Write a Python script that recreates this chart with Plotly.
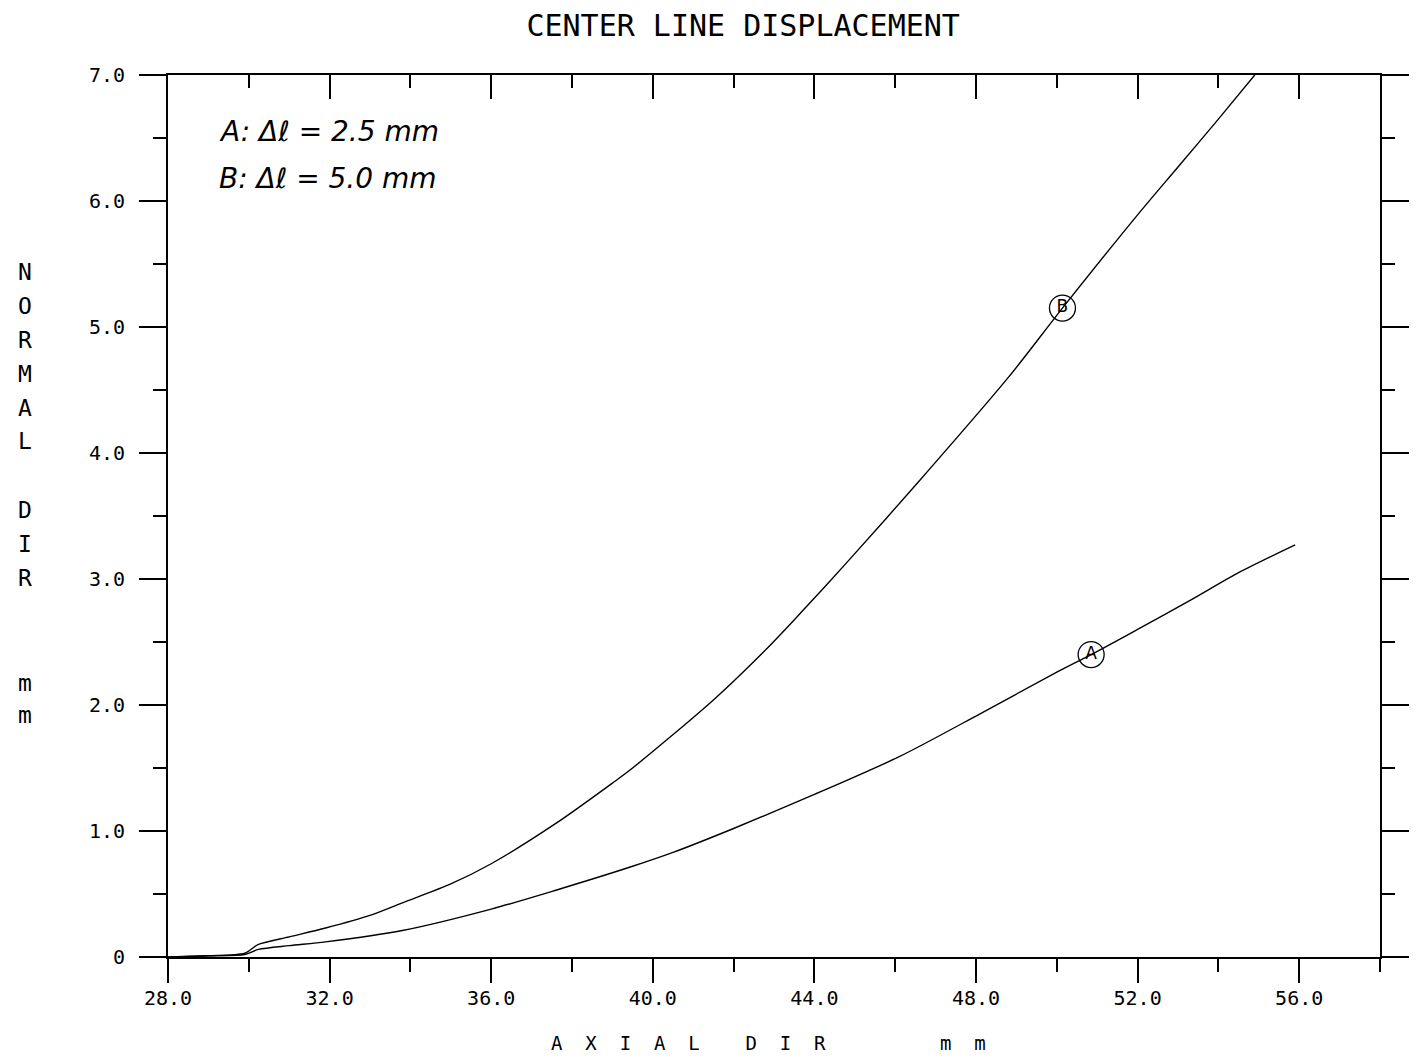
import plotly.graph_objects as go

# ---------------- data ----------------
A_X = [28.0, 29.0, 29.9, 30.24, 31.0, 31.9, 33.8, 36.0, 37.6, 39.5, 40.5, 42.0, 44.0,
       46.1, 48.1, 50.0, 50.85, 52.0, 53.3, 54.5, 55.9]
A_Y = [0.0, 0.01, 0.02, 0.06, 0.09, 0.12, 0.21, 0.38, 0.53, 0.72, 0.83, 1.02, 1.29,
       1.59, 1.93, 2.26, 2.40, 2.60, 2.83, 3.05, 3.27]

B_X = [28.0, 29.0, 29.9, 30.24, 31.0, 31.9, 33.0, 33.8, 35.0, 36.0, 37.6, 39.0, 39.5,
       41.5, 42.8, 43.6, 44.8, 46.6, 48.8, 50.14, 52.0, 53.0, 54.0, 54.9]
B_Y = [0.0, 0.01, 0.03, 0.10, 0.16, 0.23, 0.33, 0.43, 0.58, 0.74, 1.06, 1.38, 1.50,
       2.04, 2.44, 2.71, 3.13, 3.78, 4.60, 5.15, 5.89, 6.27, 6.65, 7.0]

LABEL_TEXT = ["A", "B"]
LABEL_X = [50.85, 50.14]
LABEL_Y = [2.40, 5.15]

X_TICKS = [28, 32, 36, 40, 44, 48, 52, 56]
X_TICKTEXT = ["28.0", "32.0", "36.0", "40.0", "44.0", "48.0", "52.0", "56.0"]
Y_TICKS = [0, 1, 2, 3, 4, 5, 6, 7]
Y_TICKTEXT = ["0", "1.0", "2.0", "3.0", "4.0", "5.0", "6.0", "7.0"]

TITLE = "CENTER LINE DISPLACEMENT"
X_TITLE = "A  X  I  A  L    D  I  R          m  m"
Y_TITLE_LETTERS = ["N", "O", "R", "M", "A", "L", "D", "I", "R", "m", "m"]
LEGEND_LINES = ["A: Δℓ = 2.5 mm", "B: Δℓ = 5.0 mm"]

# ---------------- layout geometry ----------------
W, H = 1421, 1058
ML, MR, MT, MB = 168, 28, 75, 101
PW, PH = W - ML - MR, H - MT - MB

def px_to_paper(px, py):
    return (px - ML) / PW, (H - MB - py) / PH

MONO = "DejaVu Sans Mono"
BLACK = "#000000"

fig = go.Figure()

fig.add_trace(go.Scatter(x=A_X, y=A_Y, mode="lines",
                         line=dict(color=BLACK, width=1.4, shape="spline", smoothing=0.8),
                         hoverinfo="skip", showlegend=False))
fig.add_trace(go.Scatter(x=B_X, y=B_Y, mode="lines",
                         line=dict(color=BLACK, width=1.4, shape="spline", smoothing=0.8),
                         hoverinfo="skip", showlegend=False))
fig.add_trace(go.Scatter(x=LABEL_X, y=LABEL_Y, mode="markers+text", text=LABEL_TEXT,
                         textposition="middle center",
                         textfont=dict(family="DejaVu Sans", size=17, color=BLACK),
                         marker=dict(symbol="circle-open", size=26,
                                     line=dict(color=BLACK, width=1.3), color=BLACK),
                         hoverinfo="skip", showlegend=False))
# invisible trace for top axis
fig.add_trace(go.Scatter(x=[X_TICKS[0], X_TICKS[-1]], y=[0, 0], xaxis="x2", mode="lines",
                         line=dict(width=0), opacity=0, hoverinfo="skip", showlegend=False))

tickfont = dict(family=MONO, size=20, color=BLACK)

fig.update_layout(
    width=W, height=H,
    margin=dict(l=ML, r=MR, t=MT, b=MB),
    paper_bgcolor="white", plot_bgcolor="white",
    title=dict(text=TITLE, x=0.523, xref="container", xanchor="center",
               y=1 - 25 / H, yref="container", yanchor="middle",
               font=dict(family=MONO, size=30, color=BLACK)),
    xaxis=dict(range=[28, 58], tickmode="array", tickvals=X_TICKS, ticktext=X_TICKTEXT,
               ticks="outside", ticklen=24, tickwidth=2, tickcolor=BLACK,
               minor=dict(tick0=28, dtick=2, ticks="outside", ticklen=13, tickwidth=1.5,
                          tickcolor=BLACK, showgrid=False),
               showline=True, linecolor=BLACK, linewidth=2, showgrid=False, zeroline=False,
               tickfont=tickfont, ticklabelstandoff=-2),
    xaxis2=dict(range=[28, 58], matches="x", overlaying="x", side="top",
                tickmode="array", tickvals=X_TICKS, showticklabels=False,
                ticks="inside", ticklen=24, tickwidth=2, tickcolor=BLACK,
                minor=dict(tick0=28, dtick=2, ticks="inside", ticklen=13, tickwidth=1.5,
                           tickcolor=BLACK, showgrid=False),
                showline=True, linecolor=BLACK, linewidth=2, showgrid=False, zeroline=False),
    yaxis=dict(range=[0, 7], tickmode="array", tickvals=Y_TICKS, ticktext=Y_TICKTEXT,
               ticks="outside", ticklen=27, tickwidth=2, tickcolor=BLACK, mirror="ticks",
               minor=dict(tick0=0, dtick=0.5, ticks="outside", ticklen=13, tickwidth=1.5,
                          tickcolor=BLACK, showgrid=False),
               showline=True, linecolor=BLACK, linewidth=2, showgrid=False, zeroline=False,
               tickfont=tickfont, ticklabelstandoff=10),
)

# extended border lines to the right edge (as in the plotter output)
for yy in (0, 1):
    fig.add_shape(type="line", xref="paper", yref="paper", x0=1, x1=1 + MR / PW,
                  y0=yy, y1=yy, line=dict(color=BLACK, width=2))

# x axis title
xt, yt = px_to_paper(775, 1043)
fig.add_annotation(text=X_TITLE.replace(" ", "\u00a0"), xref="paper", yref="paper",
                   x=xt, y=yt, xanchor="center", yanchor="middle", showarrow=False,
                   font=dict(family=MONO, size=19, color=BLACK))

# y axis title, vertical stacked letters
y_centers = [272, 306, 340, 374, 408, 441, 510, 544, 578, 683, 715]
for ch, cy in zip(Y_TITLE_LETTERS, y_centers):
    ax, ay = px_to_paper(23, cy)
    fig.add_annotation(text=ch, xref="paper", yref="paper", x=ax, y=ay,
                       xanchor="center", yanchor="middle", showarrow=False,
                       font=dict(family=MONO, size=23, color=BLACK))

# handwritten legend
for line, cy in zip(LEGEND_LINES, [132, 178]):
    lx, ly = px_to_paper(218, cy)
    fig.add_annotation(text="<i>" + line + "</i>", xref="paper", yref="paper", x=lx, y=ly,
                       xanchor="left", yanchor="middle", showarrow=False,
                       font=dict(family="DejaVu Sans", size=28, color=BLACK))

fig.write_html("out.html", config={"displayModeBar": False},
               post_script="document.body.style.margin='0';")
